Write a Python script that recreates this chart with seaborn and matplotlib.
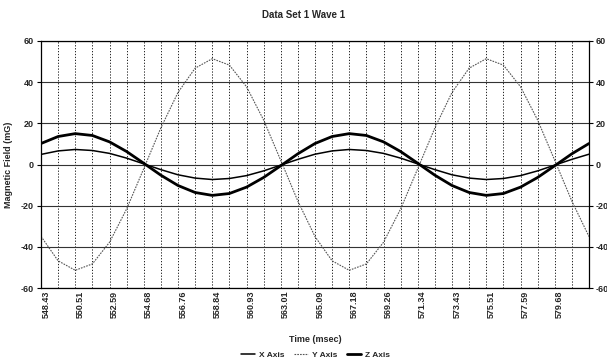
import numpy as np
import pandas as pd
import matplotlib
matplotlib.use('Agg')
import matplotlib.pyplot as plt
import matplotlib.transforms as mtransforms
import seaborn as sns

# sample times (msec), one every ~1.04 ms
times = ['548.43', '549.47', '550.51', '551.55', '552.59', '553.64', '554.68', '555.72',
         '556.76', '557.80', '558.84', '559.89', '560.93', '561.97', '563.01', '564.05',
         '565.09', '566.14', '567.18', '568.22', '569.26', '570.30', '571.34', '572.39',
         '573.43', '574.47', '575.51', '576.55', '577.59', '578.64', '579.68', '580.72',
         '581.76']

x_axis = [4.9, 6.6, 7.3, 6.8, 5.4, 3.1, 0.3, -2.5, -5.0, -6.6, -7.3, -6.8, -5.4, -3.1, -0.3, 2.5,
          5.0, 6.6, 7.3, 6.8, 5.4, 3.1, 0.3, -2.5, -5.0, -6.6, -7.3, -6.8, -5.4, -3.1, -0.3, 2.5, 5.0]
y_axis = [-34.9, -46.8, -51.4, -48.3, -37.8, -21.6, -2.0, 17.8, 35.0, 46.8, 51.4, 48.3, 37.8, 21.6, 2.0, -17.8,
          -35.0, -46.8, -51.4, -48.3, -37.8, -21.6, -2.0, 17.8, 35.0, 46.8, 51.4, 48.3, 37.8, 21.6, 2.0, -17.8, -35.0]
z_axis = [10.2, 13.6, 15.0, 14.1, 11.0, 6.3, 0.6, -5.2, -10.2, -13.6, -15.0, -14.1, -11.0, -6.3, -0.6, 5.2,
          10.2, 13.6, 15.0, 14.1, 11.0, 6.3, 0.6, -5.2, -10.2, -13.6, -15.0, -14.1, -11.0, -6.3, -0.6, 5.2, 10.2]

y_ticks = [-60, -40, -20, 0, 20, 40, 60]

df = pd.DataFrame({'idx': np.arange(len(times)), 'X Axis': x_axis, 'Y Axis': y_axis, 'Z Axis': z_axis})

sns.set_style('white')
plt.rcParams['font.family'] = ['Liberation Sans', 'DejaVu Sans']
plt.rcParams['font.weight'] = 'bold'

fig = plt.figure(figsize=(6.07, 3.63), dpi=100)
ax = fig.add_axes([41/607, 1-288/363, 548/607, 247/363])

sns.lineplot(data=df, x='idx', y='X Axis', ax=ax, color='black', linewidth=1.1, label='X Axis')
sns.lineplot(data=df, x='idx', y='Y Axis', ax=ax, color='#555555', linewidth=0.8,
             linestyle=(0, (1.5, 1)), label='Y Axis')
sns.lineplot(data=df, x='idx', y='Z Axis', ax=ax, color='black', linewidth=2.0, label='Z Axis')

ax.set_xlim(0, len(times) - 1)
ax.set_ylim(-60, 60)
ax.set_yticks(y_ticks)
ax.set_yticklabels([str(v) for v in y_ticks], fontsize=6.5, fontweight='bold')

ax.set_xticks(np.arange(len(times)))
labels = [t if (i % 2 == 0 and i < len(times) - 1) else '' for i, t in enumerate(times)]
ax.set_xticklabels(labels, rotation=90, fontsize=6.5, fontweight='bold', va='top')
ax.tick_params(axis='x', length=11, width=0.9, color='black', direction='out', pad=-9)
ax.tick_params(axis='y', length=3, width=0.8, color='black', pad=2)
offset = mtransforms.ScaledTranslation(5/100, 0, fig.dpi_scale_trans)
for lab in ax.get_xticklabels():
    lab.set_transform(lab.get_transform() + offset)

# grid: dotted verticals, solid horizontals
for i in range(1, len(times) - 1):
    ax.axvline(i, color='black', linewidth=0.6, linestyle=(0, (1.5, 2)), zorder=0)
for v in y_ticks:
    ax.axhline(v, color='#333333', linewidth=0.8, zorder=0)

for s in ax.spines.values():
    s.set_color('black')
    s.set_linewidth(0.9)

ax2 = ax.twinx()
ax2.set_ylim(-60, 60)
ax2.set_yticks(y_ticks)
ax2.set_yticklabels([str(v) for v in y_ticks], fontsize=6.5, fontweight='bold')
ax2.tick_params(axis='y', length=3, width=0.8, color='black', pad=2)
for s in ax2.spines.values():
    s.set_visible(False)

ax.set_xlabel('Time (msec)', fontsize=6.5, fontweight='bold', labelpad=4)
ax.xaxis.set_label_coords(0.5, -0.19)
ax.set_ylabel('Magnetic Field (mG)', fontsize=6.5, fontweight='bold', labelpad=6)
fig.text(0.5, 1 - 15/363, 'Data Set 1 Wave 1', ha='center', va='center', fontsize=7, fontweight='bold')

handles, lbls = ax.get_legend_handles_labels()
ax.get_legend().remove()
fig.legend(handles, lbls, loc='center', bbox_to_anchor=(0.52, 1 - 355/363), ncol=3, frameon=False,
           handlelength=1.6, columnspacing=1.2, handletextpad=0.5,
           prop={'weight': 'bold', 'size': 6})

fig.savefig('out.png', dpi=100, facecolor='white')
